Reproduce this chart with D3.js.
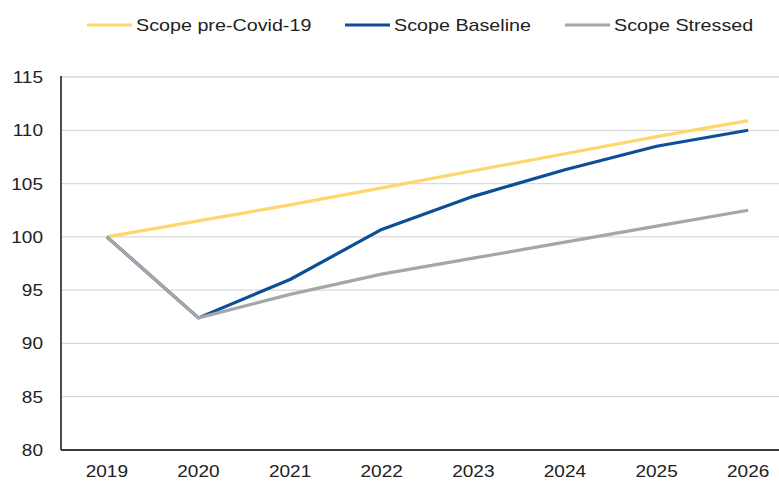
<!DOCTYPE html>
<html>
<head>
<meta charset="utf-8">
<script src="https://cdn.jsdelivr.net/npm/d3@7"></script>
<style>
  html, body { margin: 0; padding: 0; background: #fff; }
  svg { display: block; font-family: "Liberation Sans", Arial, sans-serif; }
</style>
</head>
<body>
<svg id="chart" width="779" height="481"></svg>
<script>
// Index level, 2019 = 100
const years = ["2019", "2020", "2021", "2022", "2023", "2024", "2025", "2026"];
const preCovid = [100, 101.5, 103.0, 104.6, 106.2, 107.8, 109.4, 110.9];
const baseline = [100, 92.4, 96.0, 100.7, 103.8, 106.3, 108.5, 110.0];
const stressed = [100, 92.4, 94.6, 96.5, 98.0, 99.5, 101.0, 102.5];
const yTicks = [80, 85, 90, 95, 100, 105, 110, 115];
const seriesNames = ["Scope pre-Covid-19", "Scope Baseline", "Scope Stressed"];
const seriesColors = ["#fdd76b", "#0d4f96", "#a6a6a6"];

const series = [preCovid, baseline, stressed].map((values, i) => ({
  name: seriesNames[i], color: seriesColors[i], values
}));

const W = 779, H = 481;
const plot = { left: 61, right: 794, top: 77, bottom: 450 };

const svg = d3.select("#chart");

const x = d3.scaleBand().domain(years).range([plot.left, plot.right]);
const y = d3.scaleLinear().domain([80, 115]).range([plot.bottom, plot.top]);
const cx = d => x(d) + x.bandwidth() / 2;

// horizontally stretched label helper
function label(g, tx, ty, str, anchor, stretch) {
  return g.append("text")
    .attr("transform", `translate(${tx},${ty}) scale(${stretch},1)`)
    .attr("text-anchor", anchor)
    .attr("font-size", 17)
    .attr("fill", "#222")
    .text(str);
}

// horizontal gridlines
svg.append("g").selectAll("line")
  .data(yTicks.filter(t => t !== 80))
  .join("line")
  .attr("x1", plot.left).attr("x2", W)
  .attr("y1", d => y(d)).attr("y2", d => y(d))
  .attr("stroke", "#d9d9d9").attr("stroke-width", 1.3);

// y tick labels
const yl = svg.append("g");
yTicks.forEach(t => label(yl, 43, y(t) + 6, String(t), "end", 1.12));

// x tick labels
const xl = svg.append("g");
years.forEach(yr => label(xl, cx(yr), 477, yr, "middle", 1.12));

// axis lines
svg.append("line").attr("x1", plot.left).attr("x2", plot.left).attr("y1", plot.top - 1).attr("y2", plot.bottom)
  .attr("stroke", "#3a3a3a").attr("stroke-width", 1.8);
svg.append("line").attr("x1", plot.left).attr("x2", W).attr("y1", plot.bottom).attr("y2", plot.bottom)
  .attr("stroke", "#3a3a3a").attr("stroke-width", 1.8);

// series lines, stressed drawn last so it sits on top of the shared segment
const line = d3.line().x((d, i) => cx(years[i])).y(d => y(d));
series.forEach(s => {
  svg.append("path")
    .attr("d", line(s.values))
    .attr("fill", "none")
    .attr("stroke", s.color)
    .attr("stroke-width", 3.2)
    .attr("stroke-linejoin", "round");
});

// legend
const legendX = [87, 345, 565];
const lg = svg.append("g");
series.forEach((s, i) => {
  lg.append("line")
    .attr("x1", legendX[i]).attr("x2", legendX[i] + 45)
    .attr("y1", 25).attr("y2", 25)
    .attr("stroke", s.color).attr("stroke-width", 3.2);
  label(lg, legendX[i] + 49, 31, s.name, "start", 1.16);
});
</script>
</body>
</html>
